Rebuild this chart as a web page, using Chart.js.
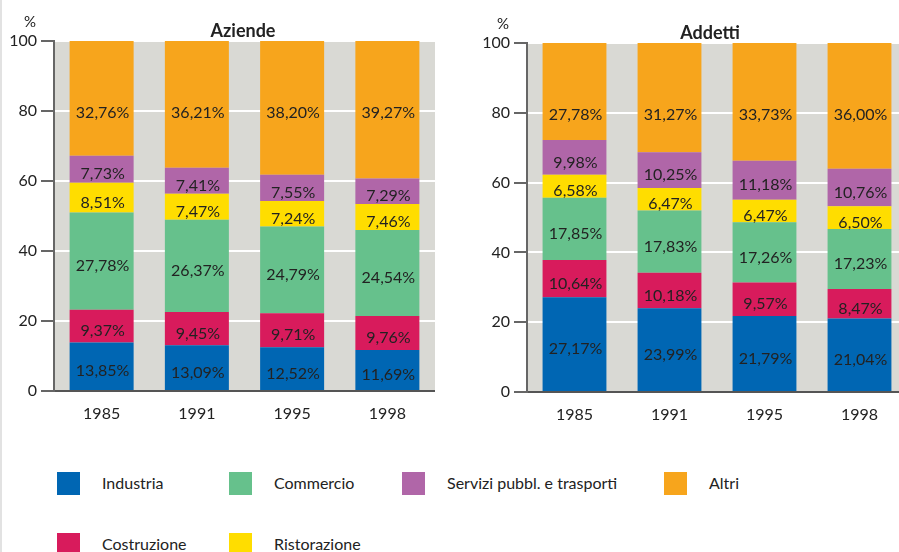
<!DOCTYPE html>
<html>
<head>
<meta charset="utf-8">
<script src="https://cdn.jsdelivr.net/npm/chart.js@4"></script>
<style>
  html, body { margin: 0; padding: 0; background: #fff; width: 899px; height: 552px; overflow: hidden; }
  body { position: relative; font-family: Lato, "Open Sans", sans-serif; color: #222; }
  .edge { position: absolute; left: 0; top: 0; width: 2px; height: 552px; background: #e2e2e2; }
  #left { position: absolute; left: 0; top: 0; }
  #right { position: absolute; left: 450px; top: 0; }
  .leg { position: absolute; font-size: 16px; }
  .leg span.box { position: absolute; left: 0; top: 0; width: 23px; height: 23px; }
  .leg span.txt { position: absolute; left: 45px; top: 1px; white-space: nowrap; }
</style>
</head>
<body>
<div class="edge"></div>
<canvas id="left" width="435" height="431"></canvas>
<canvas id="right" width="457" height="432"></canvas>
<div id="legend"></div>
<script>
const years = ["1985", "1991", "1995", "1998"];
const sectors = ["Industria", "Costruzione", "Commercio", "Ristorazione", "Servizi pubbl. e trasporti", "Altri"];
const colors = ["#0066b3", "#d81b5c", "#66c18c", "#ffdd00", "#b066a8", "#f7a51c"];
const yTicks = [0, 20, 40, 60, 80, 100];

// Aziende (%)
const azIndustria    = [13.85, 13.09, 12.52, 11.69];
const azCostruzione  = [9.37, 9.45, 9.71, 9.76];
const azCommercio    = [27.78, 26.37, 24.79, 24.54];
const azRistorazione = [8.51, 7.47, 7.24, 7.46];
const azServizi      = [7.73, 7.41, 7.55, 7.29];
const azAltri        = [32.76, 36.21, 38.20, 39.27];

// Addetti (%)
const adIndustria    = [27.17, 23.99, 21.79, 21.04];
const adCostruzione  = [10.64, 10.18, 9.57, 8.47];
const adCommercio    = [17.85, 17.83, 17.26, 17.23];
const adRistorazione = [6.58, 6.47, 6.47, 6.50];
const adServizi      = [9.98, 10.25, 11.18, 10.76];
const adAltri        = [27.78, 31.27, 33.73, 36.00];

const FONT = "Lato, 'Open Sans', sans-serif";

// grey plot background + labels inside segments + title and "%"
const decorPlugin = {
    id: "decor",
    beforeDraw(chart) {
        const a = chart.chartArea;
        const ctx = chart.ctx;
        ctx.save();
        ctx.fillStyle = "#d9d9d4";
        ctx.fillRect(a.left, a.top, a.right - a.left, a.bottom - a.top);
        ctx.restore();
    },
    afterDatasetsDraw(chart) {
        const ctx = chart.ctx;
        const yScale = chart.scales.y;
        const last = chart.data.datasets.length - 1;
        ctx.save();
        ctx.fillStyle = "#222";
        ctx.font = "16px " + FONT;
        ctx.textAlign = "center";
        ctx.textBaseline = "middle";
        chart.data.datasets.forEach((ds, i) => {
            chart.getDatasetMeta(i).data.forEach((bar, j) => {
                const txt = ds.data[j].toFixed(2).replace(".", ",") + "%";
                // the top segment label sits on the 80 line, the others in the middle
                const yc = i === last ? yScale.getPixelForValue(80) + 2 : (bar.y + bar.base) / 2 + 5;
                ctx.fillText(txt, bar.x + 1, yc);
            });
        });
        const a = chart.chartArea;
        const o = chart.options.plugins.decor;
        ctx.font = "bold 18px " + FONT;
        ctx.fillText(o.title, o.titleX, a.top - 10);
        ctx.font = "15px " + FONT;
        ctx.fillText("%", a.left - 24, a.top - 19);
        ctx.restore();
    }
};

function makeChart(id, series, title, padLeft, axisW, padTop, titleX) {
    const datasets = series.map((d, i) => ({
        label: sectors[i],
        data: d,
        backgroundColor: colors[i],
        borderWidth: 0,
        categoryPercentage: 0.672,
        barPercentage: 1
    }));
    return new Chart(document.getElementById(id), {
        type: "bar",
        data: { labels: years, datasets: datasets },
        options: {
            responsive: false,
            animation: false,
            layout: { padding: { left: padLeft, top: padTop, right: 0, bottom: 0 } },
            plugins: {
                legend: { display: false },
                tooltip: { enabled: false },
                decor: { title: title, titleX: titleX }
            },
            scales: {
                x: {
                    stacked: true,
                    grid: { display: false },
                    border: { display: true, color: "#555", width: 2 },
                    ticks: { color: "#222", font: { family: FONT, size: 16 }, padding: 5 },
                    afterFit(s) { s.height = 40; }
                },
                y: {
                    stacked: true,
                    min: 0,
                    max: 100,
                    afterBuildTicks(s) { s.ticks = yTicks.map(v => ({ value: v })); },
                    grid: {
                        color: "#ffffff",
                        lineWidth: 2,
                        tickColor: "#333",
                        tickLength: 13,
                        tickWidth: 1.5
                    },
                    border: { display: true, color: "#666", width: 2 },
                    ticks: { color: "#222", font: { family: FONT, size: 16 }, padding: 4 },
                    afterFit(s) { s.width = axisW; }
                }
            }
        },
        plugins: [decorPlugin]
    });
}

makeChart("left",
    [azIndustria, azCostruzione, azCommercio, azRistorazione, azServizi, azAltri],
    "Aziende", 0, 54, 41, 243);
makeChart("right",
    [adIndustria, adCostruzione, adCommercio, adRistorazione, adServizi, adAltri],
    "Addetti", 30, 47, 43, 260);

// legend
const legendPos = [
    [57, 472], [57, 533], [229, 472], [229, 533], [402, 472], [664, 472]
];
const legendEl = document.getElementById("legend");
sectors.forEach((name, k) => {
    const d = document.createElement("div");
    d.className = "leg";
    d.style.left = legendPos[k][0] + "px";
    d.style.top = legendPos[k][1] + "px";
    d.innerHTML = '<span class="box" style="background:' + colors[k] + '"></span><span class="txt">' + name + "</span>";
    legendEl.appendChild(d);
});
</script>
</body>
</html>
